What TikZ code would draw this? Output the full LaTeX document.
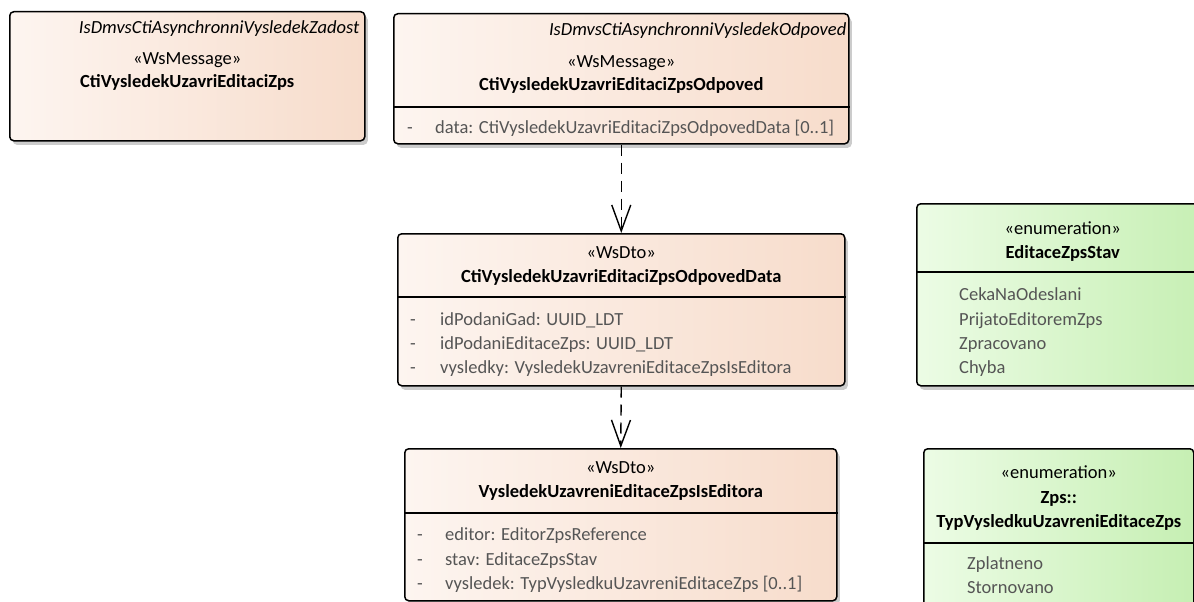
\documentclass[tikz,border=0pt]{standalone}
\usepackage{fontspec}
\setmainfont{Carlito}
\usepackage{tikz}
\usetikzlibrary{calc,shadows,arrows.meta}
\definecolor{MsgLeft}{HTML}{FDF5F0}
\definecolor{MsgRight}{HTML}{F7DCCB}
\definecolor{EnumLeft}{HTML}{ECFCE5}
\definecolor{EnumRight}{HTML}{C6EFB3}
\definecolor{AttrGray}{HTML}{555555}
\def\BoxLine{1.5pt}
\def\TxtSize{\fontsize{18.5}{21}\selectfont}

\begin{document}
\begin{tikzpicture}[x=1pt,y=-1pt,font=\TxtSize,
  classbox/.style={draw=black,line width=\BoxLine,rounded corners=4pt,
    anchor=north west,inner sep=0pt,
    drop shadow={shadow xshift=3pt,shadow yshift=-4pt,fill=black!20,opacity=1}},
  msgbox/.style={classbox,left color=MsgLeft,right color=MsgRight},
  enumbox/.style={classbox,left color=EnumLeft,right color=EnumRight},
  sepline/.style={draw=black,line width=1.2pt},
  stereo/.style={inner sep=0pt,anchor=base},
  clsname/.style={inner sep=0pt,anchor=base,font=\TxtSize\bfseries},
  absname/.style={inner sep=0pt,anchor=base east,font=\TxtSize\itshape},
  attr/.style={inner sep=0pt,anchor=base west,text=AttrGray},
  realize/.style={draw=black,line width=1.4pt,dash pattern=on 11pt off 7pt,
    -{Straight Barb[length=26pt,width=19pt]}}]
  \useasboundingbox (0,0) rectangle (1194,602);
  \clip (0,0) rectangle (1194,602);
  % classes
  \node[msgbox,minimum width=355pt,minimum height=129pt] (zad) at (9,11) {};
  \node[msgbox,minimum width=455pt,minimum height=130pt] (odp) at (393,13) {};
  \node[msgbox,minimum width=447pt,minimum height=152pt] (dat) at (397,233) {};
  \node[msgbox,minimum width=432pt,minimum height=152pt] (vys) at (404,448) {};
  % enumerations
  \node[enumbox,minimum width=292pt,minimum height=182pt] (stav) at (916,203) {};
  \node[enumbox,minimum width=270pt,minimum height=170pt] (typ) at (923,448) {};
  % compartments
  \draw[sepline] ($(odp.north west)+(0,94)$) -- ($(odp.north east)+(0,94)$);
  \draw[sepline] ($(dat.north west)+(0,64)$) -- ($(dat.north east)+(0,64)$);
  \draw[sepline] ($(vys.north west)+(0,65)$) -- ($(vys.north east)+(0,65)$);
  \draw[sepline] ($(stav.north west)+(0,69)$) -- ($(stav.north east)+(0,69)$);
  \draw[sepline] ($(typ.north west)+(0,95)$) -- ($(typ.north east)+(0,95)$);
  %
  \node[absname] (zadIf) at ($(zad.north east)+(-6,23)$) {IsDmvsCtiAsynchronniVysledekZadost};
  \node[stereo] (zadSt) at ($(zad.north)+(0,53)$) {«WsMessage»};
  \node[clsname] (zadNm) at ($(zad.north)+(0,77)$) {CtiVysledekUzavriEditaciZps};
  %
  \node[absname] (odpIf) at ($(odp.north east)+(-3,23)$) {IsDmvsCtiAsynchronniVysledekOdpoved};
  \node[stereo] (odpSt) at ($(odp.north)+(0,54)$) {«WsMessage»};
  \node[clsname] (odpNm) at ($(odp.north)+(0,78)$) {CtiVysledekUzavriEditaciZpsOdpoved};
  \node[attr] (odpA0) at ($(odp.north west)+(14,120)$) {-};
  \node[attr] (odpA1) at ($(odp.north west)+(42,120)$) {data: CtiVysledekUzavriEditaciZpsOdpovedData [0..1]};
  %
  \node[stereo] (datSt) at ($(dat.north)+(0,25)$) {«WsDto»};
  \node[clsname] (datNm) at ($(dat.north)+(0,49)$) {CtiVysledekUzavriEditaciZpsOdpovedData};
  \node[attr] (datA0) at ($(dat.north west)+(13,92)$) {-};
  \node[attr] (datA1) at ($(dat.north west)+(43,92)$) {idPodaniGad: UUID\_LDT};
  \node[attr] (datB0) at ($(dat.north west)+(13,116)$) {-};
  \node[attr] (datB1) at ($(dat.north west)+(43,116)$) {idPodaniEditaceZps: UUID\_LDT};
  \node[attr] (datC0) at ($(dat.north west)+(13,140)$) {-};
  \node[attr] (datC1) at ($(dat.north west)+(43,140)$) {vysledky: VysledekUzavreniEditaceZpsIsEditora};
  %
  \node[stereo] (vysSt) at ($(vys.north)+(0,25)$) {«WsDto»};
  \node[clsname] (vysNm) at ($(vys.north)+(0,49)$) {VysledekUzavreniEditaceZpsIsEditora};
  \node[attr] (vysA0) at ($(vys.north west)+(13,92)$) {-};
  \node[attr] (vysA1) at ($(vys.north west)+(41,92)$) {editor: EditorZpsReference};
  \node[attr] (vysB0) at ($(vys.north west)+(13,117)$) {-};
  \node[attr] (vysB1) at ($(vys.north west)+(41,117)$) {stav: EditaceZpsStav};
  \node[attr] (vysC0) at ($(vys.north west)+(13,141)$) {-};
  \node[attr] (vysC1) at ($(vys.north west)+(41,141)$) {vysledek: TypVysledkuUzavreniEditaceZps [0..1]};
  %
  \node[stereo] (stavSt) at ($(stav.north)+(0,31)$) {«enumeration»};
  \node[clsname] (stavNm) at ($(stav.north)+(0,55)$) {EditaceZpsStav};
  \node[attr] (stavL1) at ($(stav.north west)+(43,97)$) {CekaNaOdeslani};
  \node[attr] (stavL2) at ($(stav.north west)+(43,122)$) {PrijatoEditoremZps};
  \node[attr] (stavL3) at ($(stav.north west)+(43,146)$) {Zpracovano};
  \node[attr] (stavL4) at ($(stav.north west)+(43,170)$) {Chyba};
  %
  \node[stereo] (typSt) at ($(typ.north)+(0,30)$) {«enumeration»};
  \node[clsname] (typPk) at ($(typ.north)+(0,55)$) {Zps::};
  \node[clsname] (typNm) at ($(typ.north)+(0,79)$) {TypVysledkuUzavreniEditaceZps};
  \node[attr] (typL1) at ($(typ.north west)+(44,121)$) {Zplatneno};
  \node[attr] (typL2) at ($(typ.north west)+(44,145)$) {Stornovano};
  % dependencies
  \draw[realize] (odp.south) -- (dat.north);
  \draw[realize] (dat.south) -- (vys.north);
\end{tikzpicture}
\end{document}
